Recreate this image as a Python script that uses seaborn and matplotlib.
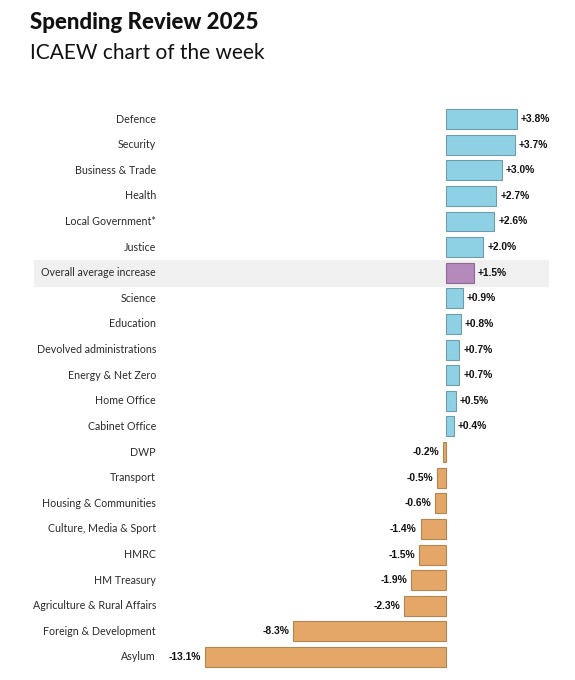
import matplotlib
matplotlib.use("Agg")
import matplotlib.pyplot as plt
import matplotlib.transforms as mtransforms
import seaborn as sns
import pandas as pd

departments = ["Defence", "Security", "Business & Trade", "Health", "Local Government*",
               "Justice", "Overall average increase", "Science", "Education",
               "Devolved administrations", "Energy & Net Zero", "Home Office",
               "Cabinet Office", "DWP", "Transport", "Housing & Communities",
               "Culture, Media & Sport", "HMRC", "HM Treasury",
               "Agriculture & Rural Affairs", "Foreign & Development", "Asylum"]
changes = [3.8, 3.7, 3.0, 2.7, 2.6, 2.0, 1.5, 0.9, 0.8, 0.7, 0.7, 0.5, 0.4,
           -0.2, -0.5, -0.6, -1.4, -1.5, -1.9, -2.3, -8.3, -13.1]
average_label = "Overall average increase"

BLUE = "#8fd1e4"
ORANGE = "#e4a767"
PURPLE = "#b48abb"

df = pd.DataFrame({"dept": departments, "change": changes})
colours = {}
for d, v in zip(departments, changes):
    if d == average_label:
        colours[d] = PURPLE
    elif v >= 0:
        colours[d] = BLUE
    else:
        colours[d] = ORANGE

sns.set_style("white")
plt.rcParams["font.family"] = ["Lato", "DejaVu Sans"]

fig = plt.figure(figsize=(5.75, 6.8), dpi=100)
ax = fig.add_axes([0.0591, 0.0150, 0.8957, 0.8288])

sns.barplot(data=df, x="change", y="dept", hue="dept", palette=colours,
            legend=False, orient="h", width=0.78, ax=ax, saturation=1)

edge = {BLUE: "#6f9caa", ORANGE: "#b58453", PURPLE: "#8c6a92"}
for bar, d in zip(ax.patches, departments):
    bar.set_edgecolor(edge[colours[d]])
    bar.set_linewidth(0.8)

# grey band behind the average row
avg_idx = departments.index(average_label)
ax.axhspan(avg_idx - 0.5, avg_idx + 0.5, color="#f0f0f0", zorder=0)

ax.set_xlim(-22.36, 5.56)
ax.set_ylim(len(departments) - 0.5, -0.5)
ax.set_xlabel("")
ax.set_ylabel("")
ax.set_xticks([])
ax.set_yticks([])
for s in ax.spines.values():
    s.set_visible(False)

# category labels, right aligned
trans = mtransforms.blended_transform_factory(ax.transAxes, ax.transData)
for i, d in enumerate(departments):
    ax.text(0.237, i, d, transform=trans, ha="right", va="center",
            fontsize=7.7, color="#2a2a2a")

# value labels
for i, v in enumerate(changes):
    txt = f"{v:+.1f}%"
    ax.annotate(txt, (v, i), xytext=(2.8 if v >= 0 else -2.8, 0),
                textcoords="offset points", ha="left" if v >= 0 else "right",
                va="center", fontsize=7.4, fontweight="bold",
                family=["Liberation Sans", "DejaVu Sans"], color="#111111")

fig.text(0.052, 0.967, "Spending Review 2025", fontsize=16, fontweight="black",
         ha="left", va="center", color="#111111")
fig.text(0.052, 0.922, "ICAEW chart of the week", fontsize=15,
         ha="left", va="center", color="#111111")

fig.savefig("out.png", dpi=100)
